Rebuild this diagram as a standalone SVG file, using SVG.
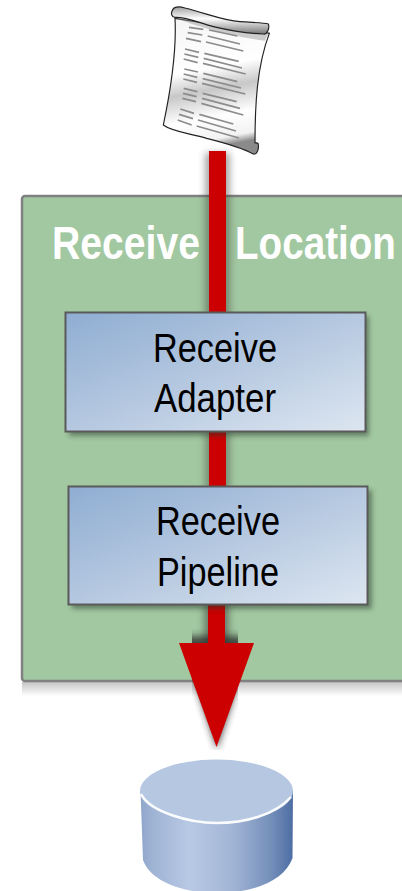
<svg xmlns="http://www.w3.org/2000/svg" width="402" height="891" viewBox="0 0 402 891">
  <defs>
    <linearGradient id="boxFill" x1="0" y1="0" x2="1" y2="1">
      <stop offset="0" stop-color="#8fadd2"/>
      <stop offset="0.5" stop-color="#b5c8e0"/>
      <stop offset="1" stop-color="#dde6f1"/>
    </linearGradient>
    <linearGradient id="panelShadow" x1="0" y1="0" x2="0" y2="1">
      <stop offset="0" stop-color="#c4c4c4"/>
      <stop offset="1" stop-color="#ffffff"/>
    </linearGradient>
    <linearGradient id="cylBody" x1="0" y1="0" x2="1" y2="0">
      <stop offset="0" stop-color="#8fa5ca"/>
      <stop offset="0.08" stop-color="#9fb3d4"/>
      <stop offset="0.32" stop-color="#b8c9e4"/>
      <stop offset="0.6" stop-color="#a2b5d5"/>
      <stop offset="0.85" stop-color="#7690bb"/>
      <stop offset="1" stop-color="#4d6da3"/>
    </linearGradient>
    <linearGradient id="page" x1="0" y1="0" x2="0.15" y2="1">
      <stop offset="0" stop-color="#f4f4f4"/>
      <stop offset="0.42" stop-color="#ffffff"/>
      <stop offset="0.58" stop-color="#c8c8c8"/>
      <stop offset="0.78" stop-color="#ffffff"/>
      <stop offset="0.94" stop-color="#f2f2f2"/>
      <stop offset="1" stop-color="#8a8a8a"/>
    </linearGradient>
    <linearGradient id="roll" x1="0" y1="0" x2="0.05" y2="1">
      <stop offset="0" stop-color="#a0a0a0"/>
      <stop offset="0.45" stop-color="#ffffff"/>
      <stop offset="1" stop-color="#808080"/>
    </linearGradient>
    <filter id="blur4" x="-60%" y="-20%" width="220%" height="140%"><feGaussianBlur stdDeviation="3.500"/></filter>
    <filter id="blur2" x="-10%" y="-10%" width="120%" height="120%"><feGaussianBlur stdDeviation="2.500"/></filter>
    <filter id="soft" x="-5%" y="-20%" width="110%" height="140%"><feGaussianBlur stdDeviation="0.700"/></filter>
    <clipPath id="arrowShadowClip"><rect x="192" y="625" width="46" height="125"/></clipPath>
    <style>
      .box{fill:url(#boxFill);stroke:#5a5a5a;stroke-width:2}
      .boxshadow{fill:#2c3a2c;opacity:.5;filter:url(#blur2)}
      .label{font-family:"Liberation Sans",Arial,sans-serif;font-size:41px;fill:#000}
      .title{font-family:"Liberation Sans",Arial,sans-serif;font-weight:bold;font-size:46px;fill:#fff}
      .red{fill:#cc0000}
      .doc{stroke:#8c8c8c;stroke-width:5;fill:none}
    </style>
  </defs>

  <g id="receive-location">
    <rect x="22" y="682" width="380" height="14" fill="url(#panelShadow)"/>
    <rect x="22" y="196" width="400" height="485" rx="3" fill="#a2c8a1" stroke="#808080" stroke-width="2.5"/>
    <text class="title" transform="translate(52 259) scale(0.851 1)">Receive</text>
    <text class="title" transform="translate(235 259) scale(0.840 1)">Location</text>
  </g>

  <g id="connectors">
    <rect x="205" y="153" width="25" height="165" fill="#333" opacity=".42" filter="url(#blur4)"/>
    <rect x="205" y="430" width="25" height="60" fill="#333" opacity=".38" filter="url(#blur4)"/>
    <rect x="204" y="603" width="25" height="42" fill="#333" opacity=".5" filter="url(#blur4)"/>
    <g clip-path="url(#arrowShadowClip)">
      <polygon points="179,636 254,636 217,750" fill="#222" opacity=".75" filter="url(#blur4)"/>
    </g>
    <rect class="red" x="209" y="151" width="17" height="165"/>
    <rect class="red" x="209" y="430" width="17" height="60"/>
    <rect class="red" x="208" y="603" width="17" height="42"/>
    <polygon class="red" points="179,643 254,643 216.500,747"/>
  </g>

  <g id="receive-adapter">
    <rect class="boxshadow" x="69" y="316" width="300" height="120"/>
    <rect class="box" x="65.500" y="312.500" width="300" height="119"/>
    <text class="label" x="153" y="362" textLength="124" lengthAdjust="spacingAndGlyphs">Receive</text>
    <text class="label" x="154" y="412" textLength="122" lengthAdjust="spacingAndGlyphs">Adapter</text>
  </g>

  <g id="receive-pipeline">
    <rect class="boxshadow" x="72" y="490" width="300" height="119"/>
    <rect class="box" x="68.500" y="486.500" width="299" height="118"/>
    <text class="label" x="156" y="535" textLength="124" lengthAdjust="spacingAndGlyphs">Receive</text>
    <text class="label" x="157" y="586" textLength="122" lengthAdjust="spacingAndGlyphs">Pipeline</text>
  </g>

  <g id="document" transform="translate(140 0) scale(0.33333)">
    <path d="M105 55C110 150 90 280 70 375C95 395 150 400 200 415C260 430 310 445 340 462C352 465 358 445 354 430L345 428C345 320 350 200 388 100Z" fill="url(#page)" stroke="#222" stroke-width="3.500"/>
    <path d="M108 55C160 75 260 108 375 122L385 100L250 70Z" fill="#888" opacity=".4" filter="url(#soft)"/>
    <g class="doc">
      <path d="M147 82L190 88M143 98L187 105M138 115L183 125M207 90L292 108M203 108L300 132M198 126L310 153"/>
      <path d="M135 147L177 157M133 162L175 172M131 177L173 188M193 160L296 184M191 175L306 204M189 190L317 222"/>
      <path d="M133 207L174 216M131 222L172 232M130 237L171 247M190 220L292 245M188 236L303 264M186 250L316 282"/>
      <path d="M131 265L172 275M129 280L170 290M127 295L168 305M188 280L290 305M186 295L300 325M184 310L310 345"/>
      <path d="M121 327L162 340M117 343L159 356M113 360L155 375M178 343L280 372M174 360L288 393M170 378L297 414"/>
    </g>
    <path d="M97 32C100 20 115 18 135 24C200 40 250 62 300 65C340 68 370 68 385 72C390 85 380 105 370 102C320 100 270 92 220 80C180 70 140 50 105 52C95 52 92 40 97 32Z" fill="url(#roll)" stroke="#222" stroke-width="3.500"/>
  </g>

  <g id="message-box">
    <path d="M140.500 790L143 860C150 880 180 893 216.500 893C255 893 285 880 292.500 858L293 790Z" fill="url(#cylBody)"/>
    <ellipse cx="216.500" cy="791" rx="76.500" ry="31.500" fill="#b6c7e2"/>
    <path d="M141 794C150 812 190 823 216.500 823C245 823 275 815 291 797" fill="none" stroke="#fff" stroke-width="2.500" opacity=".95" filter="url(#soft)"/>
  </g>
</svg>
